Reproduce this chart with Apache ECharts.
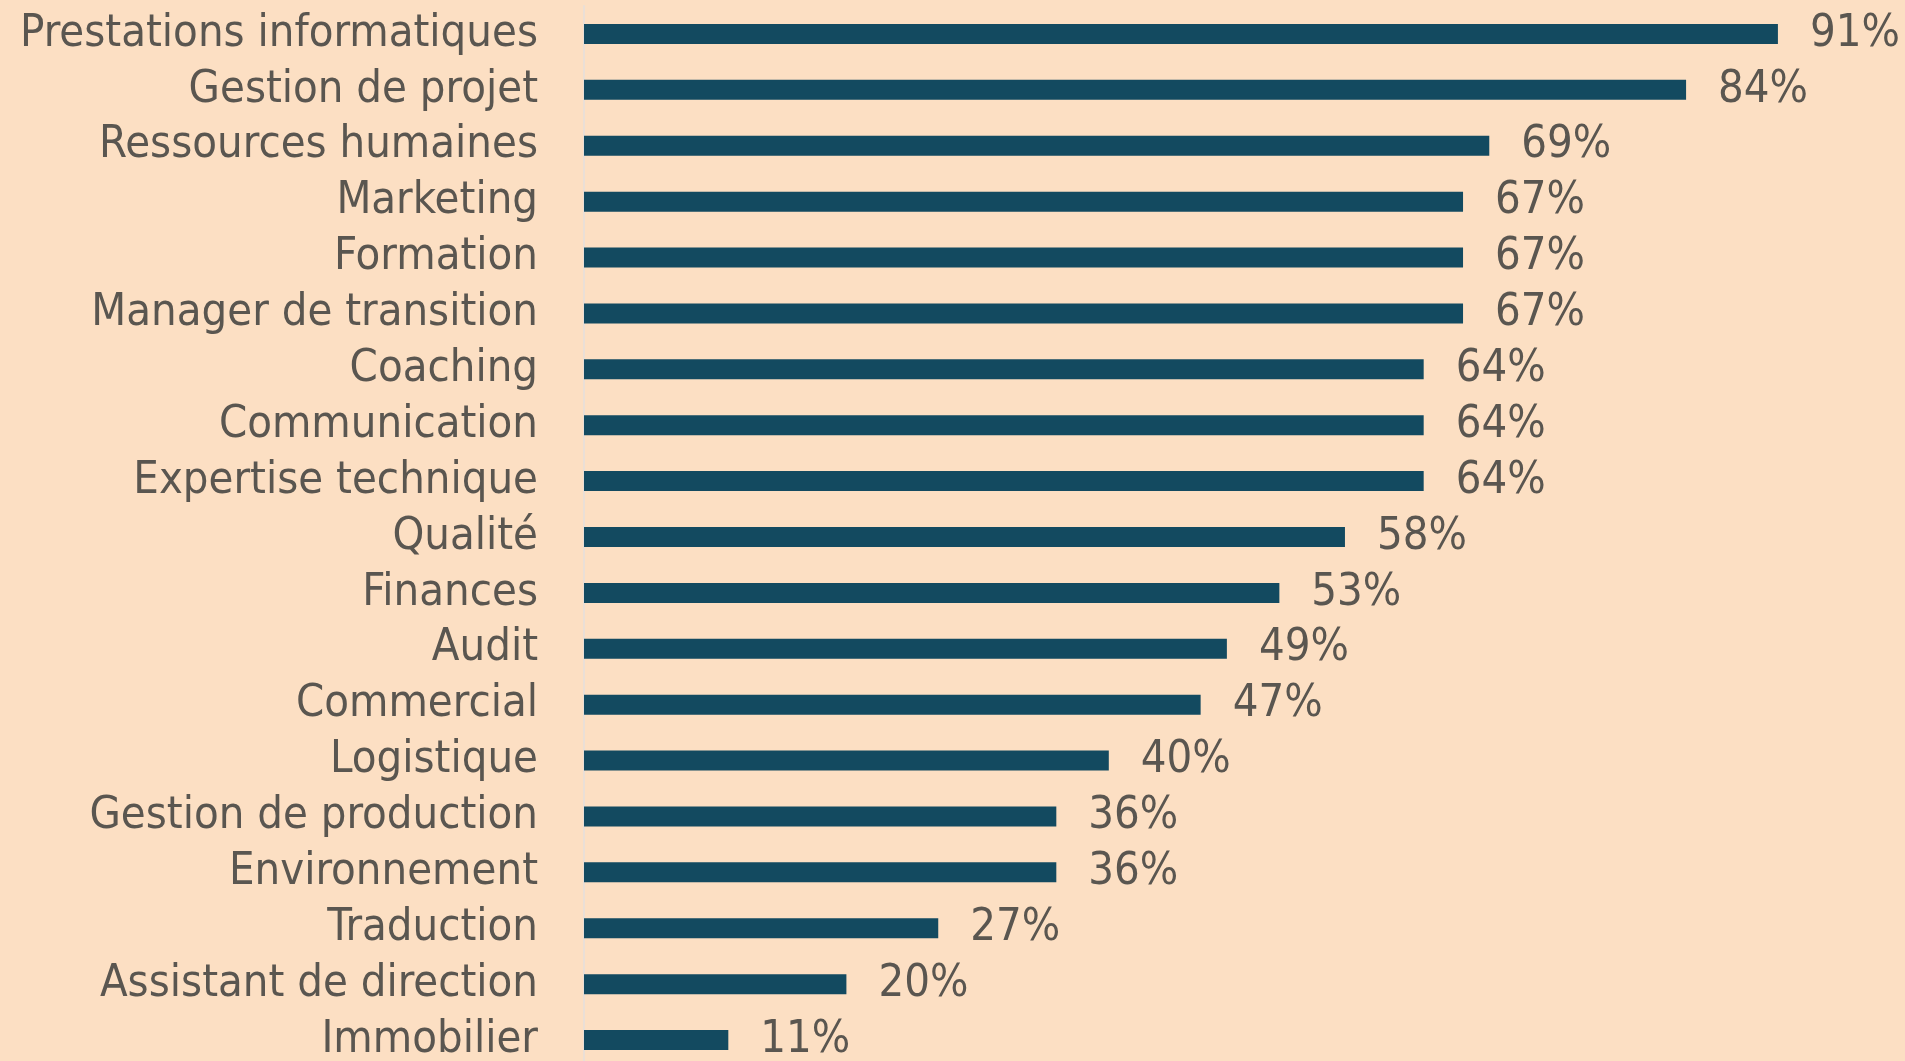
<!doctype html>
<html>
<head>
<meta charset="UTF-8">
<title>Domaines</title>
<script src="https://cdn.jsdelivr.net/npm/echarts@6/dist/echarts.min.js"></script>
<style>
	html, body { margin: 0; padding: 0; background: #fcdfc3; }
	#chart { width: 1905px; height: 1061px; }
</style>
</head>
<body>
<div id="chart"></div>
<script>
	// catégories (de haut en bas)
	var categories = ['Prestations informatiques', 'Gestion de projet', 'Ressources humaines', 'Marketing',
		'Formation', 'Manager de transition', 'Coaching', 'Communication', 'Expertise technique',
		'Qualité', 'Finances', 'Audit', 'Commercial', 'Logistique', 'Gestion de production',
		'Environnement', 'Traduction', 'Assistant de direction', 'Immobilier'];
	var values = [91, 84, 69, 67, 67, 67, 64, 64, 64, 58, 53, 49, 47, 40, 36, 36, 27, 20, 11];

	var font = '"Liberation Sans Narrow", "DejaVu Sans Condensed", sans-serif';

	var chart = echarts.init(document.getElementById('chart'));
	chart.setOption({
		backgroundColor: '#fcdfc3',
		animation: false,
		grid: {
			left: 584,
			right: 9,
			top: 6,
			height: 1062,
			outerBoundsMode: 'none'
		},
		xAxis: {
			type: 'value',
			min: 0,
			max: 100,
			show: false
		},
		yAxis: {
			type: 'category',
			inverse: true,
			data: categories,
			axisLine: { show: true, lineStyle: { color: '#eadfd6', width: 2 } },
			axisTick: { show: false },
			axisLabel: {
				interval: 0,
				margin: 46,
				color: '#5a5650',
				fontSize: 45,
				fontFamily: font,
				padding: [18, 0, 0, 0]
			}
		},
		series: [{
			type: 'bar',
			data: values,
			barWidth: 20,
			itemStyle: { color: '#134a60' },
			label: {
				show: true,
				position: 'right',
				distance: 32,
				formatter: '{c}%',
				color: '#5a5650',
				fontSize: 45,
				fontFamily: font,
				padding: [18, 0, 0, 0]
			}
		}]
	});
</script>
</body>
</html>
